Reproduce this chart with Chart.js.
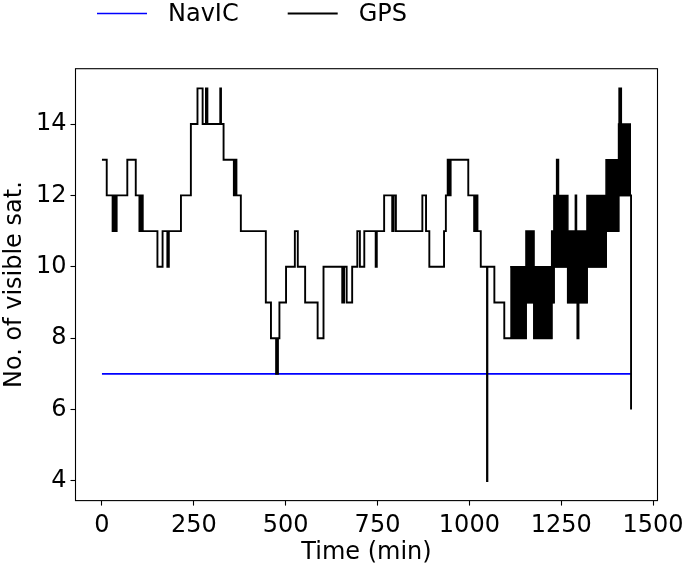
<!DOCTYPE html>
<html>
<head>
<meta charset="utf-8">
<script src="https://cdn.jsdelivr.net/npm/chart.js@4.4.1/dist/chart.umd.min.js"></script>
<style>
  html, body { margin: 0; padding: 0; background: #fff; }
</style>
</head>
<body>
<canvas id="satChart" width="685" height="567"></canvas>
<script>
// GPS visible satellites: minute at which the count changes, and the new count
var gpsTime = [0, 13, 29, 31, 32, 34, 35, 37, 38, 40, 69, 92, 102, 104, 105, 107, 108, 110, 111,
  151, 165, 178, 182, 215, 242, 260, 274, 283, 287, 322, 324, 331, 359, 361, 362, 364, 366,
  378, 446, 460, 474, 479, 483, 501, 525, 533, 553, 587, 603, 654, 659, 666, 681, 695, 702,
  714, 745, 748, 768, 790, 794, 800, 872, 882, 891, 931, 936, 941, 943, 945, 947, 949, 997,
  1013, 1018, 1022, 1031, 1048, 1049, 1068, 1095, 1111, 1154, 1176, 1224, 1230, 1238, 1242,
  1268, 1289, 1291, 1294, 1297, 1320, 1372, 1406, 1408, 1413, 1440];
var gpsCount = [13, 12, 11, 12, 11, 12, 11, 12, 11, 12, 13, 12, 11, 12, 11, 12, 11, 12, 11,
  10, 11, 10, 11, 12, 14, 15, 14, 15, 14, 15, 14, 13, 12, 13, 12, 13, 12,
  11, 9, 8, 7, 8, 9, 10, 11, 10, 9, 8, 10, 9, 10, 9, 10, 11, 10,
  11, 10, 11, 12, 11, 12, 11, 12, 11, 10, 11, 12, 13, 12, 13, 12, 13, 12,
  11, 12, 11, 10, 4, 10, 9, 8, 8, 9, 8, 9, 10, 13, 10,
  9, 12, 9, 8, 9, 10, 11, 12, 15, 12, 6];

// stretch where the GPS count flickers every minute (drawn as a solid band)
var denseTime = [1111, 1154, 1176, 1224, 1230, 1268, 1320, 1372, 1406, 1440];
var denseLow  = [8, 9, 8, 9, 10, 9, 10, 11, 12, 12];
var denseHigh = [10, 11, 10, 11, 12, 11, 12, 13, 14, 14];

// NavIC visible satellites
var navicTime = [0, 1440];
var navicCount = [7, 7];

var xTicks = [0, 250, 500, 750, 1000, 1250, 1500];
var yTicks = [4, 6, 8, 10, 12, 14];

function toPoints(xs, ys) {
  return xs.map(function (x, i) { return {x: x, y: ys[i]}; });
}

var FONT = '"DejaVu Sans", sans-serif';

// matplotlib style frame around the plot area
var framePlugin = {
  id: 'frame',
  afterDatasetsDraw: function (chart) {
    var a = chart.chartArea, ctx = chart.ctx;
    ctx.save();
    ctx.strokeStyle = '#000';
    ctx.lineWidth = 1.1;
    ctx.strokeRect(a.left, a.top, a.right - a.left, a.bottom - a.top);
    ctx.restore();
  }
};

// legend row above the axes
var lineLegend = {
  id: 'lineLegend',
  afterDraw: function (chart) {
    var ctx = chart.ctx;
    var x = 97, y = 13.5;
    ctx.save();
    ctx.font = '24px ' + FONT;
    ctx.textBaseline = 'middle';
    ctx.fillStyle = '#000';
    chart.data.datasets.forEach(function (ds) {
      if (!ds.inLegend) return;
      ctx.strokeStyle = ds.borderColor;
      ctx.lineWidth = ds.borderWidth;
      ctx.beginPath();
      ctx.moveTo(x, y);
      ctx.lineTo(x + 50, y);
      ctx.stroke();
      ctx.fillText(ds.label, x + 71, y + 1.5);
      x += 71 + ctx.measureText(ds.label).width + 49;
    });
    ctx.restore();
  }
};

new Chart(document.getElementById('satChart'), {
  type: 'line',
  data: {
    datasets: [{
      label: 'NavIC',
      inLegend: true,
      data: toPoints(navicTime, navicCount),
      borderColor: '#0000ff',
      borderWidth: 1.6,
      pointRadius: 0,
      fill: false,
      order: 3
    }, {
      label: 'GPS',
      inLegend: true,
      data: toPoints(gpsTime, gpsCount),
      borderColor: '#000000',
      borderWidth: 1.9,
      stepped: true,
      pointRadius: 0,
      fill: false,
      order: 1
    }, {
      label: 'dense high',
      data: toPoints(denseTime, denseHigh),
      borderColor: '#000000',
      backgroundColor: '#000000',
      borderWidth: 1.5,
      stepped: true,
      pointRadius: 0,
      fill: '+1',
      order: 2
    }, {
      label: 'dense low',
      data: toPoints(denseTime, denseLow),
      borderColor: '#000000',
      borderWidth: 1.5,
      stepped: true,
      pointRadius: 0,
      fill: false,
      order: 2
    }]
  },
  options: {
    responsive: false,
    animation: false,
    devicePixelRatio: 1,
    layout: { padding: { top: 68.7, right: 27.5, bottom: 0, left: 0 } },
    plugins: {
      legend: { display: false },
      tooltip: { enabled: false }
    },
    scales: {
      x: {
        type: 'linear',
        min: -72,
        max: 1512,
        afterBuildTicks: function (s) { s.ticks = xTicks.map(function (v) { return {value: v}; }); },
        afterFit: function (s) { s.height = 66.4; s.paddingLeft = 0; s.paddingRight = 0; },
        border: { display: false },
        grid: { drawOnChartArea: false, drawTicks: true, tickLength: 5, tickWidth: 1.1, tickColor: '#000' },
        ticks: {
          color: '#000',
          padding: 6,
          maxRotation: 0,
          autoSkip: false,
          font: { family: FONT, size: 24 },
          callback: function (v) { return String(v); }
        },
        title: {
          display: true,
          text: 'Time (min)',
          color: '#000',
          font: { family: FONT, size: 24 },
          padding: { top: 0, bottom: 0 }
        }
      },
      y: {
        type: 'linear',
        min: 3.45,
        max: 15.55,
        afterBuildTicks: function (s) { s.ticks = yTicks.map(function (v) { return {value: v}; }); },
        afterFit: function (s) { s.width = 75.5; s.paddingTop = 0; s.paddingBottom = 0; },
        border: { display: false },
        grid: { drawOnChartArea: false, drawTicks: true, tickLength: 5, tickWidth: 1.1, tickColor: '#000' },
        ticks: {
          color: '#000',
          padding: 4,
          autoSkip: false,
          font: { family: FONT, size: 24 },
          callback: function (v) { return String(v); }
        },
        title: {
          display: true,
          text: 'No. of visible sat.',
          color: '#000',
          font: { family: FONT, size: 24 },
          padding: { top: 0, bottom: 0 }
        }
      }
    }
  },
  plugins: [framePlugin, lineLegend]
});
</script>
</body>
</html>
